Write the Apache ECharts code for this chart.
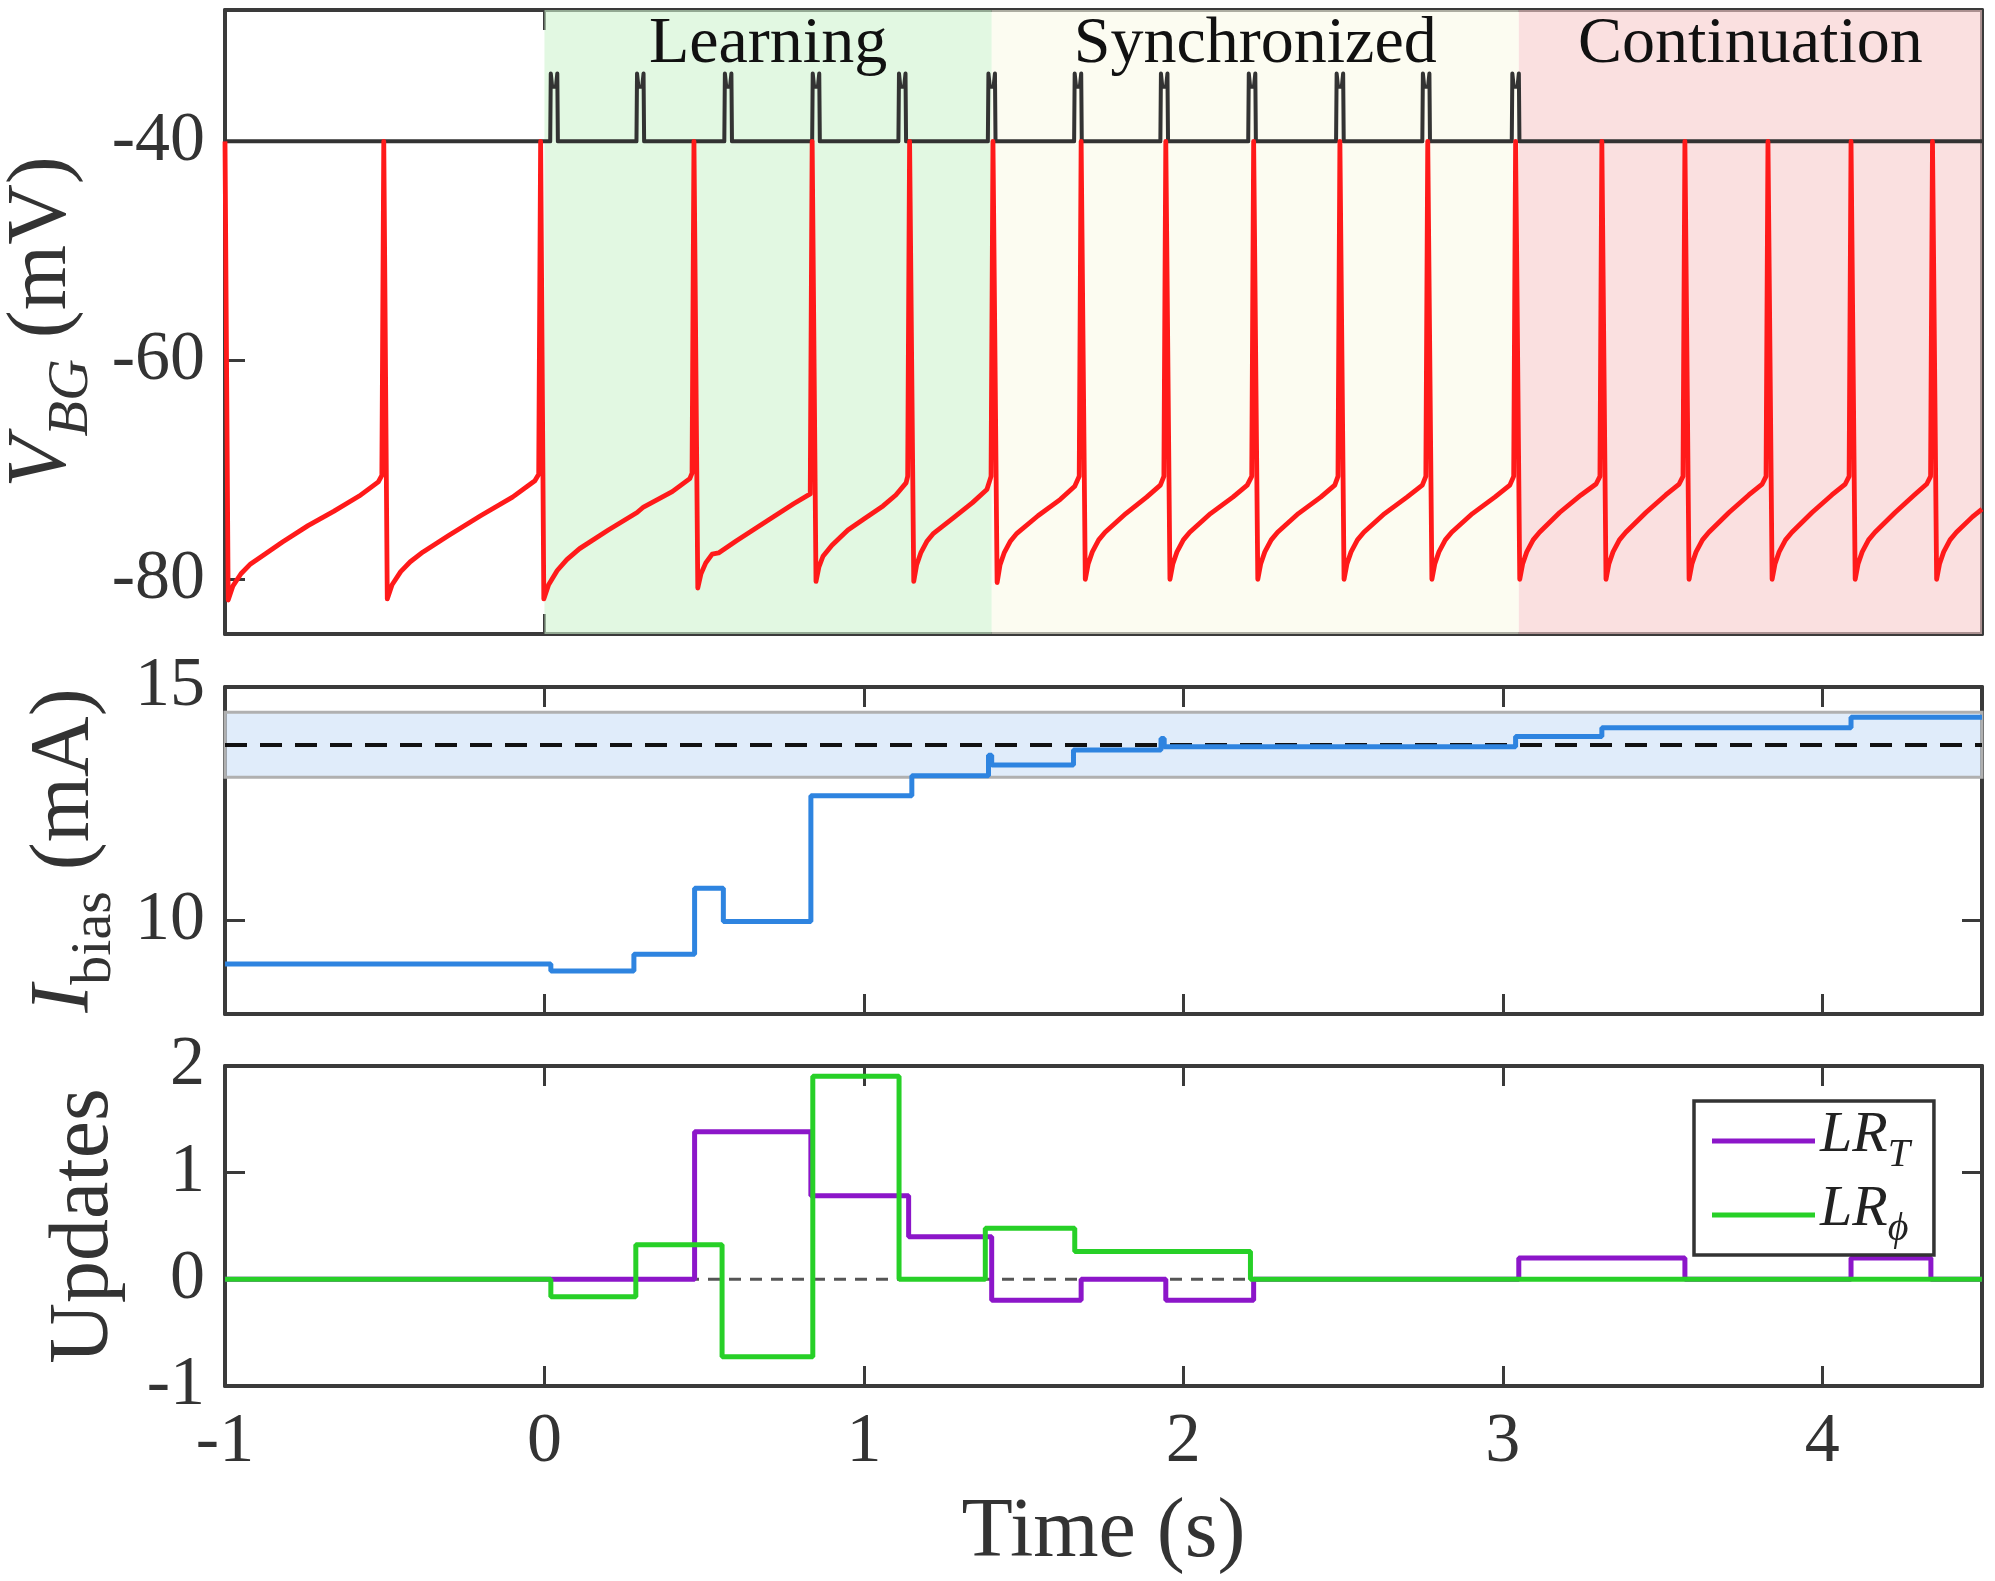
<!DOCTYPE html>
<html>
<head>
<meta charset="utf-8">
<script src="https://cdn.jsdelivr.net/npm/echarts@6/dist/echarts.min.js"></script>
<style>
html,body{margin:0;padding:0;background:#fff;}
#chart{width:1995px;height:1581px;}
</style>
</head>
<body>
<div id="chart"></div>
<script>
// ---------- data ----------
const timeTicks = [-1, 0, 1, 2, 3, 4];
const vbgTicks = [-80, -60, -40];
const ibiasTicks = [10, 15];
const updateTicks = [-1, 0, 1, 2];

const phaseNames = ['Learning', 'Synchronized', 'Continuation'];
const phaseStart = [0.0, 1.40, 3.05];
const phaseEnd = [1.40, 3.05, 4.5];

// stimulus pulses (s) on the -40 mV baseline
const stimPulseTimes = [0.03, 0.30, 0.575, 0.85, 1.12, 1.40, 1.67, 1.94, 2.215, 2.49, 2.76, 3.04];
const stimBase = -40;
const stimPeak = -35;
const stimHalfWidth = 0.012;

// membrane potential V_BG (time s, mV)
const vbgTrace = [
  [-1.000,-40],[-0.990,-81.9],[-0.975,-80.6],[-0.950,-79.5],[-0.920,-78.6],[-0.880,-77.8],[-0.820,-76.6],[-0.740,-75.1],[-0.660,-73.8],[-0.580,-72.4],[-0.520,-71.1],[-0.509,-70.5],
  [-0.503,-40],[-0.492,-81.8],[-0.477,-80.5],[-0.450,-79.3],[-0.420,-78.4],[-0.380,-77.5],[-0.300,-76.0],[-0.200,-74.2],[-0.100,-72.5],[-0.030,-71.0],[-0.018,-70.4],
  [-0.012,-40],[-0.002,-81.8],[0.013,-80.5],[0.040,-79.2],[0.070,-78.2],[0.110,-77.2],[0.200,-75.5],[0.290,-73.9],[0.310,-73.4],[0.400,-72.0],[0.455,-70.8],[0.462,-70.3],
  [0.468,-40],[0.480,-80.8],[0.490,-79.5],[0.505,-78.5],[0.525,-77.7],[0.545,-77.6],[0.600,-76.5],[0.700,-74.6],[0.780,-73.1],[0.832,-72.2],
  [0.838,-40],[0.850,-80.2],[0.859,-78.9],[0.872,-77.9],[0.900,-76.9],[0.950,-75.5],[1.000,-74.5],[1.060,-73.3],[1.100,-72.3],[1.132,-71.2],[1.137,-70.6],
  [1.143,-40],[1.156,-80.2],[1.165,-78.7],[1.178,-77.6],[1.198,-76.5],[1.218,-75.8],[1.280,-74.4],[1.340,-73.0],[1.385,-71.8],[1.398,-70.6],
  [1.404,-40],[1.417,-80.3],[1.426,-78.7],[1.439,-77.6],[1.459,-76.5],[1.479,-75.8],[1.545,-74.2],[1.615,-72.7],[1.660,-71.5],[1.674,-70.6],
  [1.680,-40],[1.693,-80.0],[1.702,-78.6],[1.715,-77.5],[1.735,-76.4],[1.755,-75.7],[1.820,-74.0],[1.885,-72.5],[1.928,-71.4],[1.939,-70.6],
  [1.945,-40],[1.958,-80.0],[1.967,-78.6],[1.980,-77.5],[2.000,-76.4],[2.020,-75.7],[2.085,-74.0],[2.155,-72.5],[2.200,-71.4],[2.214,-70.6],
  [2.220,-40],[2.233,-80.0],[2.242,-78.6],[2.255,-77.5],[2.275,-76.4],[2.295,-75.7],[2.360,-74.0],[2.430,-72.5],[2.474,-71.4],[2.484,-70.6],
  [2.490,-40],[2.503,-80.0],[2.512,-78.6],[2.525,-77.5],[2.545,-76.4],[2.565,-75.7],[2.630,-74.0],[2.700,-72.5],[2.748,-71.4],[2.759,-70.6],
  [2.765,-40],[2.778,-80.0],[2.787,-78.6],[2.800,-77.5],[2.820,-76.4],[2.840,-75.7],[2.905,-74.0],[2.975,-72.5],[3.022,-71.4],[3.034,-70.6],
  [3.040,-40],[3.053,-80.0],[3.062,-78.6],[3.075,-77.5],[3.095,-76.4],[3.115,-75.7],[3.178,-73.9],[3.245,-72.3],[3.292,-71.3],[3.304,-70.6],
  [3.310,-40],[3.323,-80.0],[3.332,-78.6],[3.345,-77.5],[3.365,-76.4],[3.385,-75.7],[3.448,-73.9],[3.510,-72.3],[3.552,-71.3],[3.564,-70.6],
  [3.570,-40],[3.583,-80.0],[3.592,-78.6],[3.605,-77.5],[3.625,-76.4],[3.645,-75.7],[3.708,-73.9],[3.770,-72.3],[3.812,-71.3],[3.824,-70.6],
  [3.830,-40],[3.843,-80.0],[3.852,-78.6],[3.865,-77.5],[3.885,-76.4],[3.905,-75.7],[3.968,-73.9],[4.030,-72.3],[4.072,-71.3],[4.084,-70.6],
  [4.090,-40],[4.103,-80.0],[4.112,-78.6],[4.125,-77.5],[4.145,-76.4],[4.165,-75.7],[4.228,-73.9],[4.288,-72.3],[4.327,-71.3],[4.339,-70.6],
  [4.345,-40],[4.358,-80.0],[4.367,-78.6],[4.380,-77.5],[4.400,-76.4],[4.420,-75.7],[4.470,-74.3],[4.500,-73.6]
];

// bias current (time s, mA) – value holds until next change
const ibiasSteps = [
  [-1,9.07],[0.02,8.92],[0.28,9.28],[0.47,10.69],[0.56,9.98],[0.834,12.67],[1.15,13.10],
  [1.39,13.54],[1.40,13.33],[1.656,13.65],[1.93,13.90],[1.94,13.72],[3.04,13.94],[3.31,14.13],[4.09,14.35],[4.5,14.35]
];
const ibiasTarget = 13.76;
const ibiasBandLow = 13.07;
const ibiasBandHigh = 14.46;

// updates (time s, value) – value holds until next change
const lrTSteps = [
  [-1,0],[0.47,1.384],[0.834,0.784],[1.14,0.40],[1.40,-0.196],[1.68,0],[1.945,-0.196],[2.22,0],
  [3.05,0.2],[3.57,0],[4.09,0.2],[4.34,0],[4.5,0]
];
const lrPhiSteps = [
  [-1,0],[0.02,-0.164],[0.286,0.325],[0.556,-0.725],[0.84,1.905],[1.11,0],[1.38,0.48],[1.66,0.26],[2.21,0],[4.5,0]
];

// ---------- build chart ----------
const FONT = 'Liberation Serif';
const AX = '#3a3a3a';
const gridL = 225, gridW = 1757;

const stimTrace = [[-1, stimBase]];
stimPulseTimes.forEach(t => {
  stimTrace.push([t - stimHalfWidth, stimBase], [t - stimHalfWidth * 0.85, stimPeak + 1.2],
                 [t - stimHalfWidth * 0.5, stimPeak], [t + stimHalfWidth * 0.5, stimPeak],
                 [t + stimHalfWidth * 0.85, stimPeak + 1.2], [t + stimHalfWidth, stimBase]);
});
stimTrace.push([4.5, stimBase]);

function xAx(gi, pos, labels, tickVals) {
  return {
    type: 'value', gridIndex: gi, position: pos, min: -1, max: 4.5,
    axisLine: { show: true, onZero: false, lineStyle: { color: AX, width: 4 } },
    axisTick: { show: true, inside: true, length: 20, customValues: tickVals || timeTicks, lineStyle: { color: AX, width: 3 } },
    axisLabel: { show: labels, customValues: timeTicks, fontFamily: FONT, fontSize: 70, color: '#333', margin: 22 },
    splitLine: { show: false },
    name: labels ? 'Time (s)' : '', nameLocation: 'middle', nameGap: 106,
    nameTextStyle: { fontFamily: FONT, fontSize: 84, color: '#333' }
  };
}
function yAx(gi, pos, min, max, ticks, tickVals, labels, name, nameGap, rich) {
  return {
    type: 'value', gridIndex: gi, position: pos, min: min, max: max,
    axisLine: { show: true, onZero: false, lineStyle: { color: AX, width: 4 } },
    axisTick: { show: tickVals.length > 0, inside: true, length: 20, customValues: tickVals, lineStyle: { color: AX, width: 3 } },
    axisLabel: { show: labels, customValues: ticks, fontFamily: FONT, fontSize: 70, color: '#333', margin: 20 },
    splitLine: { show: false },
    name: name || '', nameLocation: 'middle', nameGap: nameGap || 0,
    nameTextStyle: { fontFamily: FONT, fontSize: 84, color: '#333', rich: rich || {} }
  };
}
const richSub = {
  i: { fontFamily: FONT, fontSize: 84, fontStyle: 'italic', color: '#333', lineHeight: 84, verticalAlign: 'top' },
  n: { fontFamily: FONT, fontSize: 84, color: '#333', lineHeight: 84, verticalAlign: 'top' },
  s: { fontFamily: FONT, fontSize: 58, fontStyle: 'italic', color: '#333', lineHeight: 100, verticalAlign: 'bottom' },
  r: { fontFamily: FONT, fontSize: 58, color: '#333', lineHeight: 100, verticalAlign: 'bottom' }
};

const phaseColors = ['rgba(206,243,206,0.6)', 'rgba(250,250,232,0.6)', 'rgba(247,204,204,0.6)'];

const option = {
  animation: false,
  backgroundColor: '#fff',
  grid: [
    { left: gridL, top: 10, width: gridW, height: 624, outerBoundsMode: 'none', containLabel: false },
    { left: gridL, top: 687, width: gridW, height: 327, outerBoundsMode: 'none', containLabel: false },
    { left: gridL, top: 1066, width: gridW, height: 320, outerBoundsMode: 'none', containLabel: false }
  ],
  xAxis: [
    xAx(0, 'bottom', false, [-1, 0]), xAx(0, 'top', false, [-1, 0]),
    xAx(1, 'bottom', false), xAx(1, 'top', false),
    xAx(2, 'bottom', true), xAx(2, 'top', false)
  ],
  yAxis: [
    yAx(0, 'left', -85, -28, vbgTicks, vbgTicks, true, '{i|V}{s|BG}{n| (mV)}', 105, richSub),
    yAx(0, 'right', -85, -28, vbgTicks, [], false),
    yAx(1, 'left', 8, 15, ibiasTicks, ibiasTicks, true, '{i|I}{r|bias}{n| (mA)}', 94, richSub),
    yAx(1, 'right', 8, 15, ibiasTicks, ibiasTicks, false),
    yAx(2, 'left', -1, 2, updateTicks, updateTicks, true, '{n|Updates}', 98, richSub),
    yAx(2, 'right', -1, 2, updateTicks, updateTicks, false)
  ],
  legend: {
    data: [{ name: 'LR_T', icon: 'rect' }, { name: 'LR_phi', icon: 'rect' }],
    orient: 'vertical', left: 1694, top: 1101,
    backgroundColor: '#fff', borderColor: '#333', borderWidth: 3.5,
    padding: [6, 24, 6, 18], itemGap: 6, itemWidth: 103, itemHeight: 5,
    formatter: n => n === 'LR_T' ? '{i|LR}{s|T}' : '{i|LR}{s|ϕ}',
    textStyle: {
      rich: {
        i: { fontFamily: FONT, fontSize: 58, fontStyle: 'italic', color: '#222', lineHeight: 58, verticalAlign: 'top' },
        s: { fontFamily: FONT, fontSize: 40, fontStyle: 'italic', color: '#222', lineHeight: 68, verticalAlign: 'bottom' }
      }
    }
  },
  series: [
    {
      type: 'line', xAxisIndex: 0, yAxisIndex: 0, data: [], z: 1, silent: true,
      markArea: {
        silent: true,
        label: { show: true, position: 'insideTop', distance: 2, fontFamily: FONT, fontSize: 66, color: '#111' },
        data: phaseNames.map((n, i) => [
          { name: n, xAxis: phaseStart[i], yAxis: -85, itemStyle: { color: phaseColors[i] } },
          { xAxis: phaseEnd[i], yAxis: -28 }
        ])
      }
    },
    {
      name: 'stimulus', type: 'line', xAxisIndex: 0, yAxisIndex: 0, data: stimTrace, z: 3,
      symbol: 'none', lineStyle: { color: '#333', width: 4, join: 'round' }
    },
    {
      name: 'V_BG', type: 'line', xAxisIndex: 0, yAxisIndex: 0, data: vbgTrace, z: 4,
      symbol: 'none', lineStyle: { color: '#ff1a1a', width: 4.8, join: 'round' }
    },
    {
      type: 'line', xAxisIndex: 2, yAxisIndex: 2, data: [], z: 1, silent: true,
      markArea: {
        silent: true,
        itemStyle: { color: 'rgba(204,224,246,0.6)', borderColor: '#b0b0b0', borderWidth: 3 },
        data: [[{ xAxis: -1, yAxis: ibiasBandLow }, { xAxis: 4.5, yAxis: ibiasBandHigh }]]
      }
    },
    {
      name: 'target', type: 'line', xAxisIndex: 2, yAxisIndex: 2, z: 3,
      data: [[-1, ibiasTarget], [4.5, ibiasTarget]], symbol: 'none',
      lineStyle: { color: '#111', width: 4, type: [22, 13] }
    },
    {
      name: 'Ibias', type: 'line', xAxisIndex: 2, yAxisIndex: 2, data: ibiasSteps, step: 'end', z: 4,
      symbol: 'none', lineStyle: { color: '#2e84e0', width: 5 }
    },
    {
      name: 'zero', type: 'line', xAxisIndex: 4, yAxisIndex: 4, z: 2,
      data: [[-1, 0], [4.5, 0]], symbol: 'none',
      lineStyle: { color: '#555', width: 3, type: [12, 9] }
    },
    {
      name: 'LR_T', type: 'line', xAxisIndex: 4, yAxisIndex: 4, data: lrTSteps, step: 'end', z: 3,
      symbol: 'none', color: '#8c16c9', lineStyle: { color: '#8c16c9', width: 5 }
    },
    {
      name: 'LR_phi', type: 'line', xAxisIndex: 4, yAxisIndex: 4, data: lrPhiSteps, step: 'end', z: 4,
      symbol: 'none', color: '#27d027', lineStyle: { color: '#27d027', width: 5 }
    }
  ]
};

const chart = echarts.init(document.getElementById('chart'), null, { renderer: 'canvas' });
chart.setOption(option);
</script>
</body>
</html>
